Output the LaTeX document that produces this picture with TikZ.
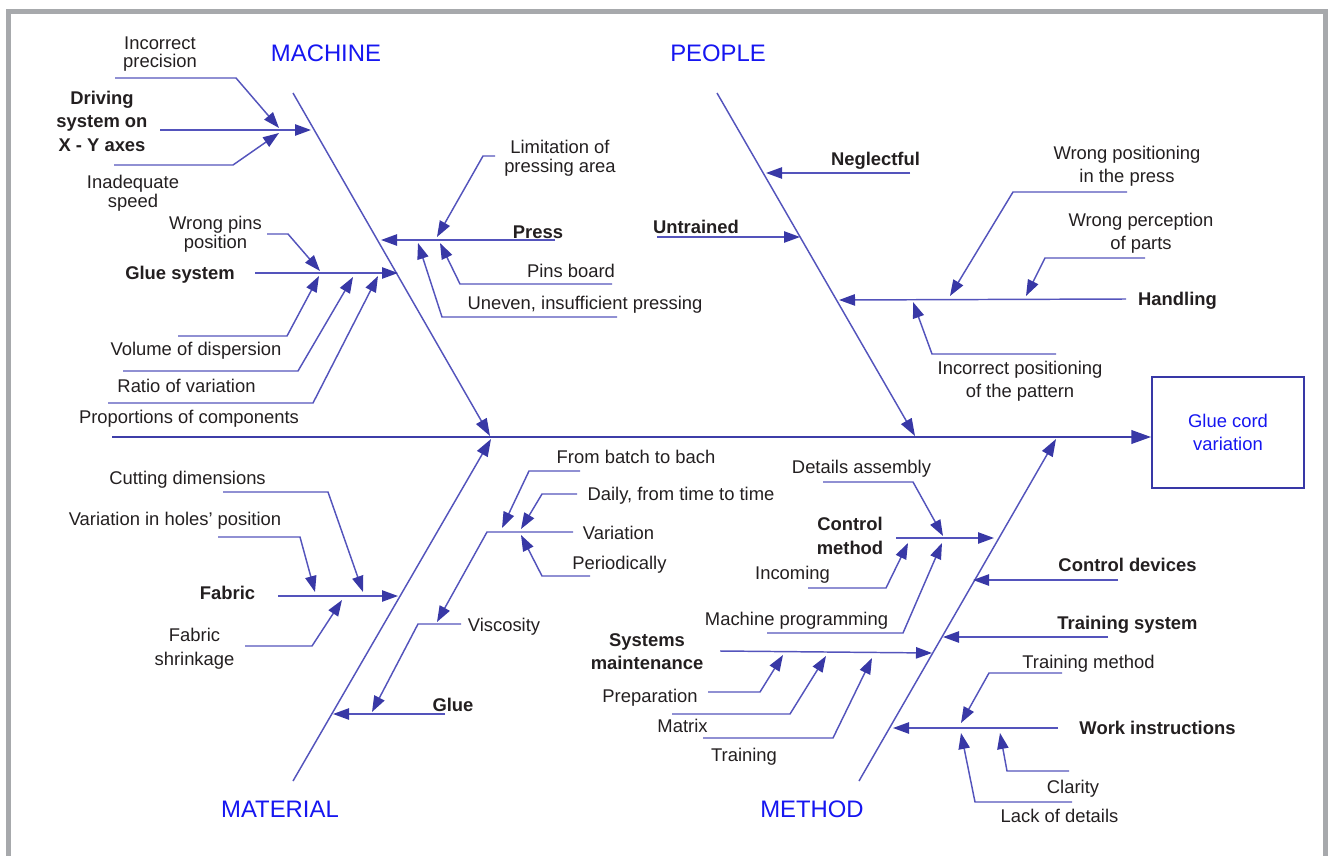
\documentclass[tikz,border=0pt]{standalone}
\usepackage{fontspec}
\setmainfont{Liberation Sans}
\usetikzlibrary{arrows.meta}
\definecolor{bone}{RGB}{84,84,188}
\definecolor{tipc}{RGB}{56,56,166}
\definecolor{spinec}{RGB}{62,62,168}
\definecolor{ink}{RGB}{35,31,32}
\definecolor{hblue}{RGB}{22,22,240}
\definecolor{frame}{RGB}{167,169,172}
\tikzset{
  lbl/.style={inner sep=0pt, text=ink, font=\fontsize{13.8}{16}\selectfont,
    text height=9.9pt, text depth=0pt},
  blbl/.style={lbl, font=\fontsize{13.8}{16}\selectfont\bfseries},
  mlbl/.style={inner sep=0pt, text=ink, align=center,
    font=\fontsize{13.8}{#1}\selectfont},
  bmlbl/.style={inner sep=0pt, text=ink, align=center,
    font=\fontsize{13.8}{#1}\selectfont\bfseries},
  head/.style={inner sep=0pt, text=hblue, font=\fontsize{17.9}{20}\selectfont,
    text height=12.8pt, text depth=0pt},
  plain/.style={draw=bone, line width=1.1pt},
  cause/.style={plain, -{Triangle[length=12pt,width=8.5pt,color=tipc]}},
  bonearr/.style={plain, -{Triangle[length=13pt,width=9pt,color=tipc]}},
  spine/.style={draw=spinec, line width=2.2pt,
    -{Triangle[length=15pt,width=10pt,color=tipc]}},
}
\begin{document}
\begin{tikzpicture}[x=0.75pt,y=-0.75pt]
\useasboundingbox (0,0) rectangle (1328,856);
% grey frame (open at the bottom)
\fill[frame] (6,9) rectangle (11,856);
\fill[frame] (6,9) rectangle (1328,14);
\fill[frame] (1323,9) rectangle (1328,856);

% ---------- effect and spine ----------
\node[draw=tipc, line width=1.1pt, minimum width=114pt, minimum height=83pt,
  inner sep=0pt, text=hblue, align=center,
  font=\fontsize{13.8}{17.25}\selectfont] (effect) at (1228,432.5) {Glue cord\\variation};
\coordinate (sp0) at (112,437);
\draw[spine] (sp0) -- (sp0 -| effect.west);

% ---------- main bones ----------
\coordinate (mA) at (293,93);   \coordinate (mB) at (490,436);
\coordinate (pA) at (717,93);   \coordinate (pB) at (915,436);
\coordinate (maA) at (293,781); \coordinate (maB) at (491,439);
\coordinate (meA) at (859,781); \coordinate (meB) at (1056,439);
\draw[bonearr] (mA) -- (mB);
\draw[bonearr] (pA) -- (pB);
\draw[bonearr] (maA) -- (maB);
\draw[bonearr] (meA) -- (meB);

\node[head] (hMachine) at (326,53) {MACHINE};
\node[head] (hPeople) at (718,53) {PEOPLE};
\node[head] (hMaterial) at (280,809) {MATERIAL};
\node[head] (hMethod) at (812,809) {METHOD};

% ---------- MACHINE ----------
% driving system
\coordinate (dr0) at (160,130); \coordinate (dr1) at (311,130);
\draw[cause] (dr0) -- (dr1);
\coordinate (ip0) at (115,78);  \coordinate (ip1) at (279,128);
\draw[cause] (ip0) -- (236,78) -- (ip1);
\coordinate (is0) at (114,165); \coordinate (is1) at (279,133);
\draw[cause] (is0) -- (233,165) -- (is1);
\node[bmlbl=17.6pt] (tDriving) at (102,121) {Driving\\system on\\X - Y axes};
\node[mlbl=13.5pt] (tIncPrec) at (160,54) {Incorrect\\precision};
\node[mlbl=14.25pt] (tInSpeed) at (133,193.5) {Inadequate\\speed};
% press
\coordinate (pr0) at (555,240); \coordinate (pr1) at (381,240);
\draw[cause] (pr0) -- (pr1);
\coordinate (lp0) at (495,156); \coordinate (lp1) at (437,237);
\draw[cause] (lp0) -- (483,156) -- (lp1);
\coordinate (pb0) at (612,284); \coordinate (pb1) at (440,243);
\draw[cause] (pb0) -- (460,284) -- (pb1);
\coordinate (ue0) at (617,317); \coordinate (ue1) at (418,243);
\draw[cause] (ue0) -- (442,317) -- (ue1);
\node[blbl] (tPress) at (538,232) {Press};
\node[mlbl=14.25pt] (tLimit) at (560,158.5) {Limitation of\\pressing area};
\node[lbl] (tPins) at (571,271) {Pins board};
\node[lbl] (tUneven) at (585,303) {Uneven, insufficient pressing};
% glue system
\coordinate (gs0) at (255,273); \coordinate (gs1) at (398,273);
\draw[cause] (gs0) -- (gs1);
\coordinate (wp0) at (267,234); \coordinate (wp1) at (320,271);
\draw[cause] (wp0) -- (288,234) -- (wp1);
\coordinate (vd0) at (178,336); \coordinate (vd1) at (319,276);
\draw[cause] (vd0) -- (287,336) -- (vd1);
\coordinate (rv0) at (123,371); \coordinate (rv1) at (353,277);
\draw[cause] (rv0) -- (298,371) -- (rv1);
\coordinate (pc0) at (108,403); \coordinate (pc1) at (378,276);
\draw[cause] (pc0) -- (313,403) -- (pc1);
\node[blbl] (tGlueSys) at (180,273) {Glue system};
\node[mlbl=14.25pt] (tWrongPins) at (215.5,234.5) {Wrong pins\\position};
\node[lbl] (tVolume) at (196,349) {Volume of dispersion};
\node[lbl] (tRatio) at (186.5,386) {Ratio of variation};
\node[lbl] (tProp) at (189,417) {Proportions of components};

% ---------- PEOPLE ----------
\coordinate (ng0) at (910,173); \coordinate (ng1) at (766,173);
\draw[cause] (ng0) -- (ng1);
\coordinate (un0) at (657,237); \coordinate (un1) at (800,237);
\draw[cause] (un0) -- (un1);
\coordinate (hd0) at (1126,299); \coordinate (hd1) at (839,300);
\draw[cause] (hd0) -- (hd1);
\coordinate (wpp0) at (1127,192); \coordinate (wpp1) at (950,296);
\draw[cause] (wpp0) -- (1013,192) -- (wpp1);
\coordinate (wpc0) at (1145,258); \coordinate (wpc1) at (1026,296);
\draw[cause] (wpc0) -- (1045,258) -- (wpc1);
\coordinate (ipp0) at (1056,354); \coordinate (ipp1) at (913,302);
\draw[cause] (ipp0) -- (932,354) -- (ipp1);
\node[blbl] (tNeglect) at (875.5,159) {Neglectful};
\node[blbl] (tUntrained) at (696,227) {Untrained};
\node[blbl] (tHandling) at (1177.5,299) {Handling};
\node[mlbl=16.9pt] (tWrongPos) at (1127,166) {Wrong positioning\\in the press};
\node[mlbl=17.25pt] (tWrongPerc) at (1141,233.5) {Wrong perception\\of parts};
\node[mlbl=17.25pt] (tIncPos) at (1020,381.5) {Incorrect positioning\\of the pattern};

% ---------- MATERIAL ----------
% fabric
\coordinate (fb0) at (278,596); \coordinate (fb1) at (398,596);
\draw[cause] (fb0) -- (fb1);
\coordinate (cd0) at (223,492); \coordinate (cd1) at (363,592);
\draw[cause] (cd0) -- (328,492) -- (cd1);
\coordinate (vh0) at (218,537); \coordinate (vh1) at (315,592);
\draw[cause] (vh0) -- (300,537) -- (vh1);
\coordinate (fs0) at (245,646); \coordinate (fs1) at (342,600);
\draw[cause] (fs0) -- (312,646) -- (fs1);
\node[blbl] (tFabric) at (227.5,593) {Fabric};
\node[lbl] (tCutting) at (187.5,478) {Cutting dimensions};
\node[lbl] (tHoles) at (175,519) {Variation in holes’ position};
\node[mlbl=18pt] (tShrink) at (194.5,649) {Fabric\\shrinkage};
% glue
\coordinate (gl0) at (445,714); \coordinate (gl1) at (333,714);
\draw[cause] (gl0) -- (gl1);
\coordinate (vs0) at (461,624); \coordinate (vs1) at (372,712);
\draw[cause] (vs0) -- (418,624) -- (vs1);
\coordinate (va0) at (573,532); \coordinate (va1) at (437,622);
\draw[cause] (va0) -- (487,532) -- (va1);
\coordinate (fbb0) at (580,471); \coordinate (fbb1) at (502,528);
\draw[cause] (fbb0) -- (529,471) -- (fbb1);
\coordinate (dt0) at (577,494); \coordinate (dt1) at (521,529);
\draw[cause] (dt0) -- (542,494) -- (dt1);
\coordinate (pe0) at (590,576); \coordinate (pe1) at (521,535);
\draw[cause] (pe0) -- (542,576) -- (pe1);
\node[blbl] (tGlue) at (453,705) {Glue};
\node[lbl] (tVisc) at (504,625) {Viscosity};
\node[lbl] (tBatch) at (636,457) {From batch to bach};
\node[lbl] (tDaily) at (681,494) {Daily, from time to time};
\node[lbl] (tVariation) at (618.5,533) {Variation};
\node[lbl] (tPeriod) at (619.5,563) {Periodically};

% ---------- METHOD ----------
% control method
\coordinate (cm0) at (896,538); \coordinate (cm1) at (994,538);
\draw[cause] (cm0) -- (cm1);
\coordinate (da0) at (823,482); \coordinate (da1) at (943,536);
\draw[cause] (da0) -- (913,482) -- (da1);
\coordinate (in0) at (808,588); \coordinate (in1) at (908,543);
\draw[cause] (in0) -- (886,588) -- (in1);
\coordinate (mp0) at (767,633); \coordinate (mp1) at (942,543);
\draw[cause] (mp0) -- (903,633) -- (mp1);
\node[bmlbl=18pt] (tCtrlMeth) at (850,536) {Control\\method};
\node[lbl] (tDetails) at (861.5,467) {Details assembly};
\node[lbl] (tIncoming) at (792.5,573) {Incoming};
\node[lbl] (tMachProg) at (796.5,619) {Machine programming};
% systems maintenance
\coordinate (sm0) at (720,651); \coordinate (sm1) at (932,653);
\draw[cause] (sm0) -- (sm1);
\coordinate (pp0) at (708,692); \coordinate (pp1) at (783,655);
\draw[cause] (pp0) -- (760,692) -- (pp1);
\coordinate (mx0) at (672,714); \coordinate (mx1) at (826,656);
\draw[cause] (mx0) -- (790,714) -- (mx1);
\coordinate (tr0) at (703,738); \coordinate (tr1) at (872,658);
\draw[cause] (tr0) -- (833,738) -- (tr1);
\node[bmlbl=17.25pt] (tSysMaint) at (647,652) {Systems\\maintenance};
\node[lbl] (tPrep) at (650,696) {Preparation};
\node[lbl] (tMatrix) at (682.5,726) {Matrix};
\node[lbl] (tTraining) at (744,755) {Training};
% right-hand causes
\coordinate (cdv0) at (1118,580); \coordinate (cdv1) at (973,580);
\draw[cause] (cdv0) -- (cdv1);
\coordinate (ts0) at (1108,637); \coordinate (ts1) at (943,637);
\draw[cause] (ts0) -- (ts1);
\coordinate (wi0) at (1058,728); \coordinate (wi1) at (893,728);
\draw[cause] (wi0) -- (wi1);
\coordinate (tm0) at (1062,673); \coordinate (tm1) at (961,723);
\draw[cause] (tm0) -- (989,673) -- (tm1);
\coordinate (cl0) at (1069,771); \coordinate (cl1) at (1000,733);
\draw[cause] (cl0) -- (1007,771) -- (cl1);
\coordinate (ld0) at (1072,802); \coordinate (ld1) at (961,733);
\draw[cause] (ld0) -- (975,802) -- (ld1);
\node[blbl] (tCtrlDev) at (1127.5,565) {Control devices};
\node[blbl] (tTrainSys) at (1127.5,623) {Training system};
\node[lbl] (tTrainMeth) at (1088.5,662) {Training method};
\node[blbl] (tWorkInstr) at (1157.5,728) {Work instructions};
\node[lbl] (tClarity) at (1073,787) {Clarity};
\node[lbl] (tLack) at (1059.5,816) {Lack of details};
\end{tikzpicture}
\end{document}
